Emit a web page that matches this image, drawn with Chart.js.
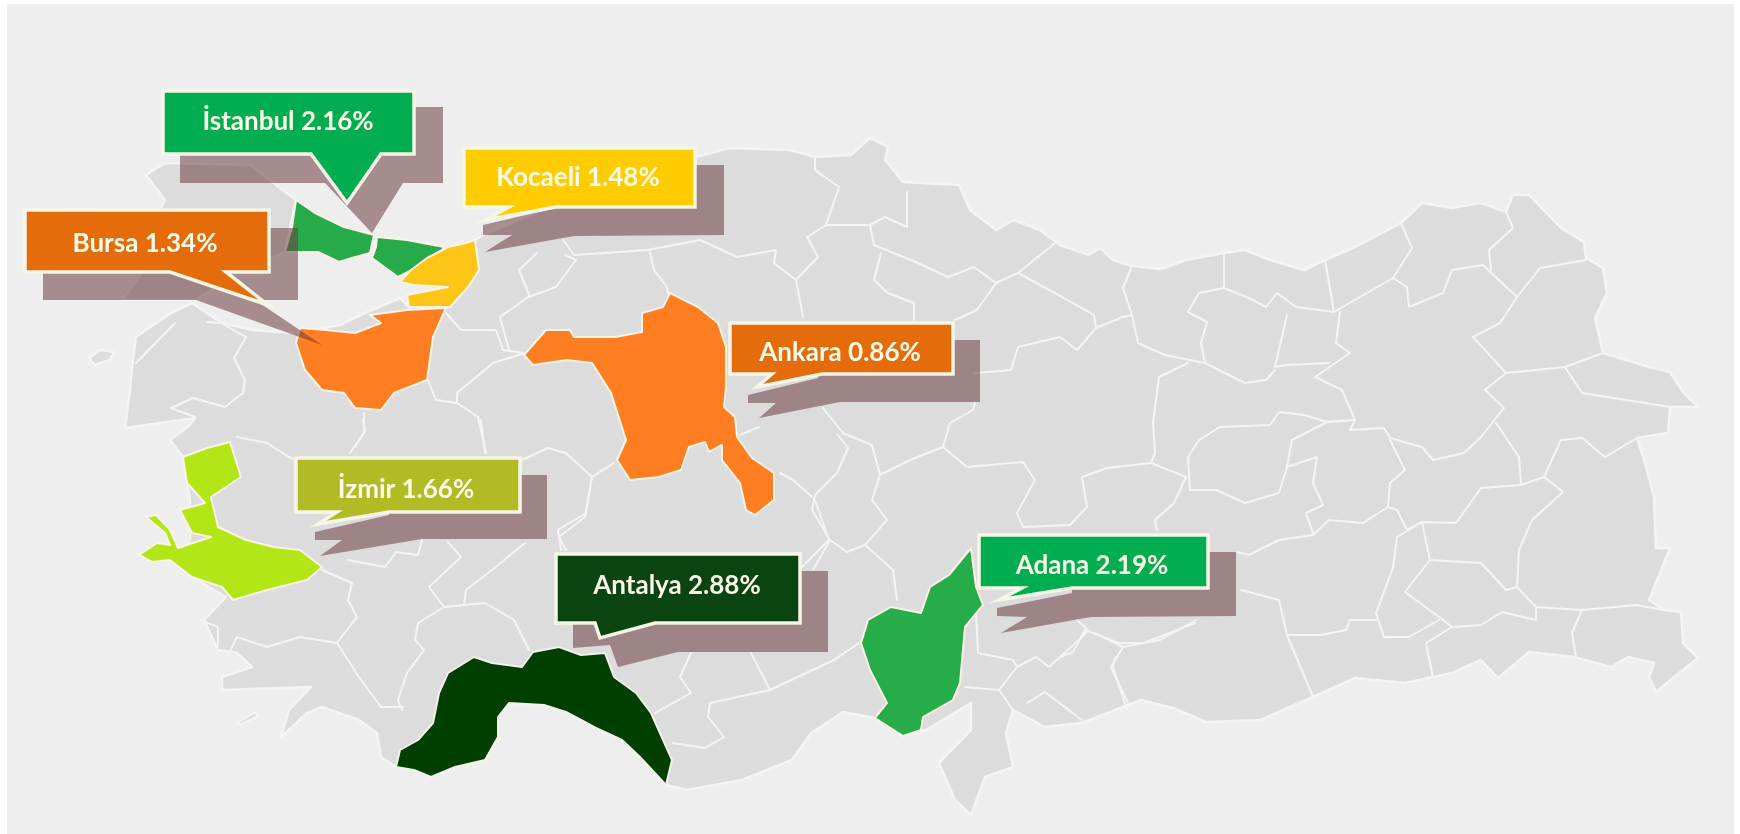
<!DOCTYPE html>
<html>
<head>
<meta charset="utf-8">
<title>Türkiye</title>
<script src="https://cdn.jsdelivr.net/npm/chart.js@4"></script>
<style>
  html, body { margin: 0; padding: 0; background: #fff; }
  canvas { display: block; }
</style>
</head>
<body>
<canvas id="map" width="1740" height="834"></canvas>
<script>
// Values
const cities = ["İstanbul", "Bursa", "Kocaeli", "Ankara", "İzmir", "Antalya", "Adana"]
const values = [2.16, 1.34, 1.48, 0.86, 1.66, 2.88, 2.19]
const provinceColors = ["#27ab4a", "#ff7e21", "#fdc515", "#ff7e21", "#b2e617", "#003f00", "#27ac4a"]
const calloutColors = ["#00ad51", "#e46c0a", "#ffcc00", "#e46c0a", "#b0bb25", "#0a4410", "#00ad51"]
const labelX = [288, 145, 578, 840, 406, 677, 1092]
const labelY = [122, 244, 178, 353, 490, 586, 566]

// Map outlines, in picture units (x, y)
const mainland = [[475,240],[483,235],[530,215],[600,190],[660,170],[696,157],[729,148],[790,150],[815,157],[851,155],[870,138],[888,147],[885,160],[903,182],[959,185],[970,210],[996,230],[1014,220],[1040,230],[1060,245],[1089,255],[1100,248],[1113,260],[1132,266],[1161,269],[1186,260],[1224,253],[1245,250],[1270,260],[1304,270],[1325,260],[1355,247],[1401,223],[1422,203],[1452,208],[1481,203],[1506,212],[1513,195],[1529,195],[1561,228],[1584,242],[1586,258],[1603,268],[1607,293],[1595,318],[1603,353],[1649,367],[1670,372],[1683,392],[1698,407],[1670,407],[1668,433],[1637,438],[1645,463],[1654,497],[1656,548],[1670,548],[1649,600],[1664,610],[1681,612],[1683,643],[1698,658],[1679,673],[1656,692],[1649,677],[1654,663],[1628,657],[1611,667],[1574,657],[1529,652],[1498,678],[1481,660],[1452,673],[1405,683],[1355,678],[1313,697],[1260,720],[1206,722],[1173,708],[1141,700],[1082,723],[1045,727],[1013,710],[1006,733],[1013,767],[985,777],[971,815],[955,800],[939,763],[971,730],[971,703],[926,730],[903,736],[875,718],[843,712],[811,733],[792,760],[774,767],[742,780],[687,790],[666,785],[640,757],[622,740],[596,728],[566,712],[544,705],[509,703],[498,717],[498,737],[485,760],[455,767],[431,777],[414,770],[396,767],[381,757],[377,733],[359,720],[322,707],[307,713],[292,727],[281,737],[289,710],[311,687],[222,690],[222,677],[252,667],[237,653],[218,650],[204,620],[226,597],[192,577],[180,560],[190,540],[190,500],[183,457],[170,440],[190,425],[195,418],[125,428],[130,390],[132,367],[136,337],[171,313],[192,303],[222,323],[252,330],[296,333],[340,325],[365,313],[400,298],[409,307],[450,307],[468,287],[479,270]]
const thrace = [[146,175],[165,163],[250,165],[296,200],[285,252],[240,272],[195,300],[122,300],[150,262],[160,210],[165,200]]
const gokceada = [[89,358],[100,350],[114,352],[110,360],[95,365]]
const datca = [[237,723],[255,712],[258,716],[240,725]]

// Province borders, white lines
const borders = [
  [[1132,266],[1123,288],[1132,315],[1138,343],[1165,355],[1205,363]],
  [[1205,363],[1201,343],[1207,322],[1188,312],[1199,293],[1224,288],[1249,298],[1266,307],[1277,293],[1296,307],[1334,312]],
  [[1224,253],[1224,288]],
  [[1325,260],[1334,312]],
  [[1334,312],[1393,278],[1412,248],[1401,223]],
  [[1393,278],[1407,287],[1409,307],[1443,293],[1452,270],[1483,265],[1502,283],[1517,297],[1540,268],[1586,260]],
  [[1506,212],[1513,228],[1489,250],[1491,270]],
  [[1517,297],[1500,323],[1473,337],[1506,373]],
  [[1506,373],[1565,367],[1603,353]],
  [[1506,373],[1485,390],[1504,408],[1481,437],[1464,453],[1433,460],[1422,447],[1390,438],[1384,428],[1350,430],[1355,420],[1342,390],[1315,377],[1350,353],[1336,343],[1340,312]],
  [[1565,367],[1582,393],[1670,407]],
  [[1496,423],[1519,457],[1521,485],[1544,477],[1561,440],[1582,438],[1605,457],[1637,438]],
  [[1544,477],[1563,492],[1532,520],[1519,550],[1517,587],[1536,607],[1582,610],[1572,633],[1576,657]],
  [[1582,610],[1637,605],[1664,610]],
  [[1521,485],[1481,488],[1456,523],[1422,522],[1430,560],[1481,563],[1506,590],[1517,587]],
  [[1430,560],[1405,592],[1439,617],[1452,627],[1481,625],[1502,612],[1536,620],[1536,607]],
  [[1452,627],[1426,643],[1433,678]],
  [[1422,522],[1397,537],[1393,568],[1376,613],[1384,637],[1409,637],[1439,620]],
  [[1376,620],[1350,620],[1346,630],[1321,635],[1287,635],[1279,600],[1241,590]],
  [[1287,635],[1313,697]],
  [[1397,510],[1407,530],[1422,522]],
  [[1397,510],[1388,507],[1363,523],[1329,520],[1313,535],[1279,540],[1249,555],[1237,552]],
  [[1388,507],[1390,483],[1405,470],[1390,440]],
  [[1327,422],[1292,440],[1287,467],[1317,457],[1313,483],[1323,505],[1306,513],[1313,533]],
  [[1355,420],[1327,422],[1304,415],[1279,412],[1270,425],[1220,427],[1199,440],[1188,457],[1190,490],[1216,490],[1245,503],[1279,493],[1287,467]],
  [[1287,315],[1275,367],[1287,365],[1329,363]],
  [[1205,363],[1245,383],[1266,380],[1275,370]],
  [[1188,363],[1159,377],[1153,423],[1155,453],[1151,463],[1186,477],[1174,503],[1155,520],[1157,530]],
  [[1018,273],[1055,293],[1094,315],[1096,328],[1123,317],[1132,315]],
  [[1018,347],[1060,337],[1077,350],[1096,328]],
  [[1085,630],[1073,652],[1060,657]],
  [[1115,657],[1113,667],[1127,710]],
  [[1085,630],[1119,643],[1144,643],[1195,623]],
  [[823,408],[843,433],[872,445],[880,475],[872,500],[887,520],[865,545],[847,552],[830,540],[812,510],[815,495],[837,473],[848,448],[838,435]],
  [[880,475],[910,460],[943,447],[950,423],[973,410],[975,403]],
  [[943,447],[967,467],[1023,462],[1035,480],[1017,513],[1023,527],[1070,525],[1087,507],[1082,477],[1107,468],[1151,463]],
  [[865,545],[893,570],[897,600]],
  [[830,540],[813,570]],
  [[780,473],[793,480],[812,497]],
  [[815,157],[815,170],[839,187],[826,225],[807,237],[818,257],[796,280],[774,263],[776,250],[737,257],[700,240],[648,250],[574,255],[563,240]],
  [[826,225],[870,225],[885,217],[907,227],[907,192]],
  [[870,225],[874,245],[918,263],[948,277],[974,267],[996,283],[977,310],[955,320]],
  [[996,283],[1018,273],[1055,243]],
  [[881,253],[874,280],[888,293],[914,303],[914,320]],
  [[796,280],[803,317]],
  [[650,252],[654,270],[667,287],[668,293]],
  [[565,255],[576,260],[556,287],[528,297],[500,317],[509,350]],
  [[537,253],[519,270],[530,297]],
  [[1018,347],[1011,370],[974,373]],
  [[740,435],[759,427]],
  [[525,353],[493,363],[457,393],[457,403],[436,400],[428,380]],
  [[457,403],[478,417],[486,453]],
  [[446,313],[461,330],[496,330],[503,350],[525,353]],
  [[364,413],[364,433],[350,453]],
  [[207,322],[221,323],[246,337],[234,358],[245,380],[243,393],[225,407],[193,398],[171,408],[195,417]],
  [[175,323],[136,363]],
  [[237,437],[267,443],[289,457],[296,460]],
  [[355,447],[365,430],[363,420]],
  [[481,420],[485,453]],
  [[522,460],[548,448],[566,453],[592,477],[585,517],[559,537],[566,550]],
  [[592,477],[614,463]],
  [[322,570],[352,583],[348,600],[357,617],[337,643],[359,677],[381,707],[403,707]],
  [[348,560],[385,567],[396,552],[418,555],[422,540]],
  [[448,542],[461,557],[429,587],[444,607],[485,603],[514,620],[529,650]],
  [[525,543],[492,570],[466,590],[464,605]],
  [[444,607],[418,623],[415,640],[424,650],[407,673],[398,700],[402,710]],
  [[337,643],[300,637],[267,647],[237,637],[229,653]],
  [[200,620],[218,627],[218,647]],
  [[691,653],[680,677],[691,693],[655,713]],
  [[751,653],[770,690],[710,703],[708,717],[724,737],[705,748],[673,743]],
  [[770,690],[834,660],[859,643]],
  [[586,513],[558,530],[561,550]],
  [[815,500],[829,540],[802,567]],
  [[976,613],[978,653],[1013,660],[1017,667],[1036,657],[1049,667],[1082,637],[1088,630],[1077,620]],
  [[1017,667],[999,690],[965,687]],
  [[999,690],[1013,710]],
  [[1095,633],[1123,647],[1160,640],[1196,620]],
  [[1123,647],[1111,667],[1128,703]],
  [[1027,703],[1045,692],[1082,720]]
]

// Highlighted provinces, same order as cities (İstanbul has two sides)
const istanbulEurope = [[296,200],[315,213],[344,227],[374,235],[370,253],[352,258],[339,262],[318,252],[285,252],[292,227]]
const istanbulAsia = [[377,237],[407,240],[444,247],[438,258],[418,267],[398,277],[372,258],[376,247]]
const bursa = [[300,328],[326,330],[355,333],[381,323],[370,315],[407,310],[446,308],[433,337],[427,380],[394,393],[381,410],[355,408],[344,393],[322,390],[305,370],[296,343]]
const kocaeli = [[475,240],[479,270],[468,287],[450,307],[409,307],[407,295],[448,287],[414,285],[400,282],[411,270],[427,258],[448,247],[466,243]]
const ankara = [[670,293],[698,307],[718,323],[726,347],[726,387],[724,407],[735,417],[737,437],[752,458],[774,473],[774,500],[755,515],[746,510],[740,483],[722,460],[722,445],[709,452],[705,442],[689,447],[681,470],[659,477],[630,480],[617,460],[626,440],[611,393],[592,363],[567,360],[533,365],[524,355],[546,330],[570,330],[574,337],[615,337],[642,332],[642,313],[663,307]]
const izmir = [[183,457],[207,448],[230,442],[241,477],[211,497],[218,527],[246,540],[274,547],[300,550],[322,567],[307,580],[267,590],[233,600],[222,587],[192,577],[170,560],[152,562],[139,555],[157,543],[170,545],[165,533],[146,517],[156,515],[170,530],[178,548],[211,537],[192,533],[180,510],[205,503],[187,483]]
const antalya = [[666,785],[672,760],[651,713],[636,693],[614,677],[605,653],[581,655],[559,647],[533,652],[522,667],[492,663],[474,657],[448,673],[439,693],[433,723],[418,740],[400,750],[396,767],[414,770],[431,777],[455,767],[485,760],[498,737],[498,717],[509,703],[544,705],[566,712],[596,728],[622,740],[640,757]]
const adana = [[971,548],[976,587],[983,605],[965,627],[960,683],[953,700],[923,717],[921,730],[903,736],[875,718],[887,703],[870,670],[861,643],[868,620],[891,607],[921,613],[930,587],[949,575]]

// Callout boxes with their pointer, and their brown shadow
const calloutShapes = [
  [[163,91],[414,91],[414,154],[381,154],[347,203],[311,154],[163,154]],
  [[25,210],[269,210],[269,272],[226,272],[268,305],[170,272],[25,272]],
  [[464,148],[695,148],[695,207],[556,207],[485,220],[509,207],[464,207]],
  [[730,323],[953,323],[953,374],[822,374],[757,387],[772,374],[730,374]],
  [[296,458],[520,458],[520,512],[389,512],[318,524],[337,512],[296,512]],
  [[556,554],[800,554],[800,623],[655,623],[600,638],[595,623],[556,623]],
  [[979,535],[1208,535],[1208,588],[1072,588],[999,600],[1022,588],[979,588]]
]
const shadowShapes = [
  [[180,107],[443,107],[443,183],[403,183],[372,233],[325,183],[180,183]],
  [[43,228],[298,228],[298,300],[255,300],[322,345],[196,300],[43,300]],
  [[483,225],[560,207],[560,165],[724,165],[724,235],[574,236],[485,252],[512,235],[483,235]],
  [[748,395],[818,378],[818,340],[980,340],[980,402],[840,402],[759,418],[776,403],[748,403]],
  [[315,532],[389,515],[389,475],[547,475],[547,539],[422,539],[320,556],[342,540],[315,540]],
  [[573,610],[700,610],[700,571],[828,571],[828,652],[678,652],[618,667],[610,645],[573,648]],
  [[997,608],[1072,593],[1072,552],[1236,552],[1236,616],[1091,617],[1001,633],[1027,617],[997,616]]
]

const LAND = "#dcdcdc"
const EDGE = "#f4f4f4"

// Un polygone fermé ou une ligne, tracé par les échelles du graphique
function shape(points, fillColor, lineColor, lineWidth, join) {
  const closed = fillColor !== null
  const data = points.map((p) => ({ x: p[0], y: p[1] }))
  if (closed) data.push({ x: points[0][0], y: points[0][1] })
  return {
    data: data,
    showLine: true,
    pointRadius: 0,
    tension: 0,
    fill: closed ? "shape" : false,
    backgroundColor: closed ? fillColor : "transparent",
    borderColor: lineColor,
    borderWidth: lineWidth,
    borderJoinStyle: join || "round",
    borderCapStyle: "round",
  }
}

const datasets = []
;[mainland, thrace, gokceada, datca].forEach((p) => datasets.push(shape(p, LAND, EDGE, 2.5)))
borders.forEach((p) => datasets.push(shape(p, null, EDGE, 2)))

const provinces = [[istanbulEurope, istanbulAsia], [bursa], [kocaeli], [ankara], [izmir], [antalya], [adana]]
provinces.forEach((parts, i) => {
  const edge = i === 5 ? "#f2f2ea" : "#fbf3e4"
  parts.forEach((p) => datasets.push(shape(p, provinceColors[i], edge, 2)))
})
shadowShapes.forEach((p) => datasets.push(shape(p, "rgba(110,60,65,0.55)", "transparent", 0, "miter")))
calloutShapes.forEach((p, i) => datasets.push(shape(p, calloutColors[i], "#f6f6e6", 3.5, "miter")))

// Chart.js dessine le premier dataset au-dessus : on inverse pour garder l'ordre de peinture
datasets.reverse()

// Fond du panneau
const panelPlugin = {
  id: "panel",
  beforeDraw(chart) {
    const { ctx, scales } = chart
    const left = scales.x.getPixelForValue(7)
    const right = scales.x.getPixelForValue(1734)
    const top = scales.y.getPixelForValue(4)
    const bottom = scales.y.getPixelForValue(834)
    ctx.save()
    ctx.fillStyle = "#eeeeee"
    ctx.fillRect(left, top, right - left, bottom - top)
    ctx.restore()
  },
}

// Textes des étiquettes
const labelPlugin = {
  id: "labels",
  afterDatasetsDraw(chart) {
    const { ctx, scales } = chart
    ctx.save()
    ctx.font = "bold 26px Lato"
    ctx.textAlign = "center"
    ctx.textBaseline = "middle"
    ctx.fillStyle = "#fdfbe9"
    cities.forEach((name, i) => {
      const text = name + " " + values[i].toFixed(2) + "%"
      ctx.fillText(text, scales.x.getPixelForValue(labelX[i]), scales.y.getPixelForValue(labelY[i]))
    })
    ctx.restore()
  },
}

new Chart(document.getElementById("map").getContext("2d"), {
  type: "scatter",
  data: { datasets: datasets },
  plugins: [panelPlugin, labelPlugin],
  options: {
    responsive: false,
    animation: false,
    layout: { padding: 0 },
    plugins: { legend: { display: false }, tooltip: { enabled: false } },
    scales: {
      x: { type: "linear", min: 0, max: 1740, display: false },
      y: { type: "linear", min: 0, max: 834, reverse: true, display: false },
    },
  },
})
</script>
</body>
</html>
